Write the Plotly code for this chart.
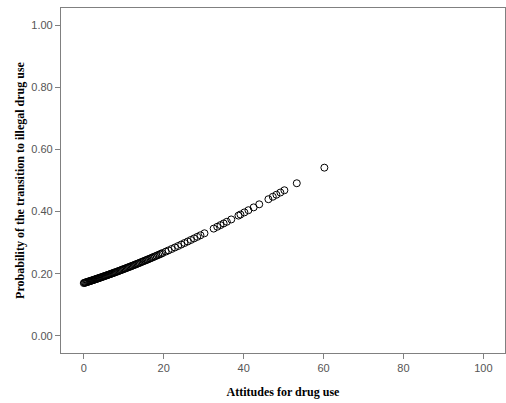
import plotly.graph_objects as go

attitudes = [0.0, 0.4, 0.8, 1.2, 1.6, 2.0, 2.4, 2.8, 3.2, 3.6, 4.0, 4.5, 5.0, 5.5, 6.0, 6.5,
             7.0, 7.5, 8.0, 8.6, 9.2, 9.8, 10.4, 11.0, 11.6, 12.2, 12.8, 13.4, 14.0, 14.7,
             15.4, 16.0, 16.7, 17.4, 18.2, 19.0, 19.7, 20.5, 21.2, 22.0, 22.8, 23.6, 24.4,
             25.2, 26.0, 26.8, 27.6, 28.4, 29.2, 30.2, 32.5, 33.4, 34.2, 35.0, 35.8, 36.9,
             38.7, 39.2, 40.2, 41.2, 42.5, 43.9, 46.2, 47.3, 48.2, 49.2, 50.2, 53.3, 60.2,
             0.2, 0.6, 1.0, 1.4, 1.8, 2.2, 2.6, 3.0, 3.4, 3.8, 4.25, 4.75, 5.25, 5.75, 6.25,
             6.75, 7.25, 7.75, 8.3, 8.9, 9.5, 10.1, 10.7, 11.3, 11.9, 12.5, 13.1, 13.7, 14.35,
             15.05, 15.7, 16.35, 17.05, 17.8, 18.6, 19.35]
probability = [0.170, 0.1716, 0.1733, 0.1749, 0.1766, 0.1783, 0.1800, 0.1817, 0.1835, 0.1852,
               0.1870, 0.1892, 0.1915, 0.1937, 0.1960, 0.1983, 0.2006, 0.2030, 0.2053, 0.2082,
               0.2111, 0.2141, 0.2170, 0.2200, 0.2230, 0.2260, 0.2291, 0.2322, 0.2353, 0.2390,
               0.2427, 0.2459, 0.2497, 0.2536, 0.2580, 0.2625, 0.2665, 0.2711, 0.2751, 0.2797,
               0.2845, 0.2892, 0.2940, 0.2989, 0.3037, 0.3087, 0.3137, 0.3187, 0.3238, 0.3302,
               0.3452, 0.3511, 0.3565, 0.3618, 0.3672, 0.3747, 0.3870, 0.3905, 0.3974, 0.4044,
               0.4135, 0.4234, 0.4398, 0.4477, 0.4542, 0.4614, 0.4686, 0.4912, 0.5413,
               0.1708, 0.1725, 0.1741, 0.1758, 0.1775, 0.1791, 0.1809, 0.1826, 0.1843, 0.1861,
               0.1881, 0.1904, 0.1926, 0.1949, 0.1972, 0.1995, 0.2018, 0.2041, 0.2067, 0.2096,
               0.2126, 0.2155, 0.2185, 0.2215, 0.2245, 0.2275, 0.2306, 0.2337, 0.2372, 0.2409,
               0.2443, 0.2478, 0.2517, 0.2558, 0.2603, 0.2645]

x_ticks = [0, 20, 40, 60, 80, 100]
y_ticks = [0.0, 0.2, 0.4, 0.6, 0.8, 1.0]
y_tick_labels = ["0.00", "0.20", "0.40", "0.60", "0.80", "1.00"]

fig = go.Figure()
fig.add_trace(go.Scatter(
    x=attitudes, y=probability, mode="markers",
    marker=dict(symbol="circle-open", size=7, color="black", line=dict(width=1, color="black")),
    showlegend=False, hoverinfo="skip",
))

axis_common = dict(
    showgrid=False, zeroline=False, showline=True, mirror=True,
    linecolor="#808080", linewidth=1.2, automargin=False,
    ticks="outside", ticklen=5, tickcolor="#808080", tickwidth=1,
    tickfont=dict(family="Liberation Sans, Arial, sans-serif", size=11, color="#555555"),
)

fig.update_layout(
    width=506, height=403,
    margin=dict(l=61, r=1, t=8, b=50),
    paper_bgcolor="white", plot_bgcolor="white",
    xaxis=dict(range=[-5.7, 105.4], tickvals=x_ticks,
               title=dict(text="<b>Attitudes for drug use</b>", standoff=14,
                          font=dict(family="Liberation Serif, Times New Roman, serif", size=12, color="black")),
               **axis_common),
    yaxis=dict(range=[-0.055, 1.055], tickvals=y_ticks, ticktext=y_tick_labels,
               title=dict(text="<b>Probability of the transition to illegal drug use</b>", standoff=4,
                          font=dict(family="Liberation Serif, Times New Roman, serif", size=12, color="black")),
               **axis_common),
)

fig.write_html("out.html", config={"displayModeBar": False},
               post_script="document.body.style.margin='0';")
